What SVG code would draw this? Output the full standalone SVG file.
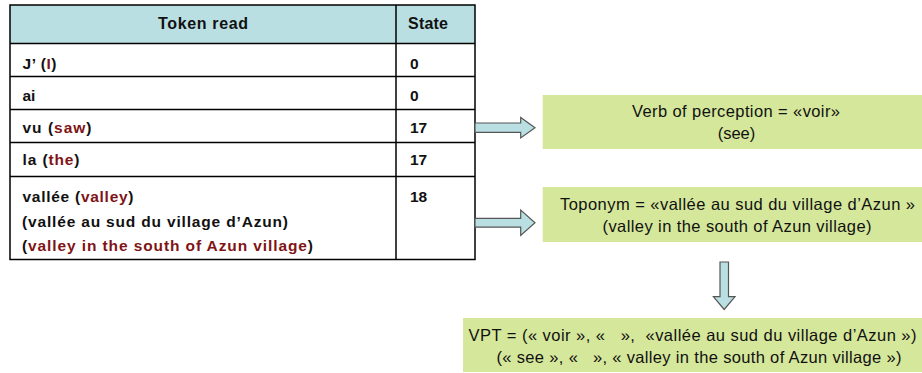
<svg xmlns="http://www.w3.org/2000/svg" width="922" height="373" viewBox="0 0 922 373">
<style>
.grid{fill:none;stroke:#000;stroke-width:1.5}
.hdr{fill:#b9dfe3}
.th{font-family:"Liberation Sans",Arial,sans-serif;font-size:16px;font-weight:bold;fill:#111}
.td{font-family:"Liberation Sans",Arial,sans-serif;font-size:15.5px;font-weight:bold;fill:#111}
.red{fill:#7f1416}
.box{fill:#d5e79b}
.bt{font-family:"Liberation Sans",Arial,sans-serif;font-size:16.5px;fill:#111;text-anchor:middle}
.arr{fill:#b9dfe3;stroke:#555;stroke-width:1.2;stroke-linejoin:miter}
</style>
<rect width="922" height="373" fill="#fff"/>
<g id="table">
<rect class="hdr" x="10" y="5" width="465" height="38.5"/>
<rect class="grid" x="10" y="5" width="465" height="254.5"/>
<line class="grid" x1="10" y1="43.5" x2="475" y2="43.5"/>
<line class="grid" x1="10" y1="76.5" x2="475" y2="76.5"/>
<line class="grid" x1="10" y1="109.5" x2="475" y2="109.5"/>
<line class="grid" x1="10" y1="142.5" x2="475" y2="142.5"/>
<line class="grid" x1="10" y1="176.5" x2="475" y2="176.5"/>
<line class="grid" x1="396" y1="5" x2="396" y2="259.5"/>
<text class="th" x="158" y="29" textLength="90" lengthAdjust="spacing">Token read</text>
<text class="th" x="408" y="29" textLength="40" lengthAdjust="spacing">State</text>
<text class="td" x="22.5" y="69" textLength="34" lengthAdjust="spacing">J’ (<tspan class="red">I</tspan>)</text>
<text class="td" x="410" y="69">0</text>
<text class="td" x="22.5" y="101">ai</text>
<text class="td" x="410" y="101">0</text>
<text class="td" x="22.5" y="133" textLength="69" lengthAdjust="spacing">vu (<tspan class="red">saw</tspan>)</text>
<text class="td" x="410" y="133">17</text>
<text class="td" x="22.5" y="165" textLength="57" lengthAdjust="spacing">la (<tspan class="red">the</tspan>)</text>
<text class="td" x="410" y="165">17</text>
<text class="td" x="22.5" y="202" textLength="111" lengthAdjust="spacing">vallée (<tspan class="red">valley</tspan>)</text>
<text class="td" x="22" y="227" textLength="266" lengthAdjust="spacing">(vallée au sud du village d’Azun)</text>
<text class="td" x="22" y="251" textLength="291" lengthAdjust="spacing">(<tspan class="red">valley in the south of Azun village</tspan>)</text>
<text class="td" x="410" y="202">18</text>
</g>
<g id="connectors">
<path class="arr" d="M475,123 H520.7 V117.5 L535,127.7 L520.7,137.9 V132.4 H475 Z"/>
<path class="arr" d="M475,218.3 H520.7 V210 L535,222.7 L520.7,235.4 V227.1 H475 Z"/>
<path class="arr" d="M720,262 H728.5 V296.7 H735 L724.2,309.5 L713.4,296.7 H720 Z"/>
</g>
<g id="verb">
<rect class="box" x="542.7" y="95" width="379.3" height="54"/>
<text class="bt" x="736" y="117" textLength="208" lengthAdjust="spacing">Verb of perception = «voir»</text>
<text class="bt" x="736.5" y="139">(see)</text>
</g>
<g id="toponym">
<rect class="box" x="542.7" y="187" width="379.3" height="55"/>
<text class="bt" x="737.5" y="210" textLength="355" lengthAdjust="spacing">Toponym = «vallée au sud du village d’Azun »</text>
<text class="bt" x="737" y="232" textLength="269" lengthAdjust="spacing">(valley in the south of Azun village)</text>
</g>
<g id="vpt">
<rect class="box" x="463" y="318" width="459" height="54"/>
<text class="bt" x="692.5" y="341" textLength="448" lengthAdjust="spacing" xml:space="preserve">VPT = (« voir », «   »,  «vallée au sud du village d’Azun »)</text>
<text class="bt" x="699" y="363" textLength="405" lengthAdjust="spacing" xml:space="preserve">(« see », «   », « valley in the south of Azun village »)</text>
</g>
</svg>
